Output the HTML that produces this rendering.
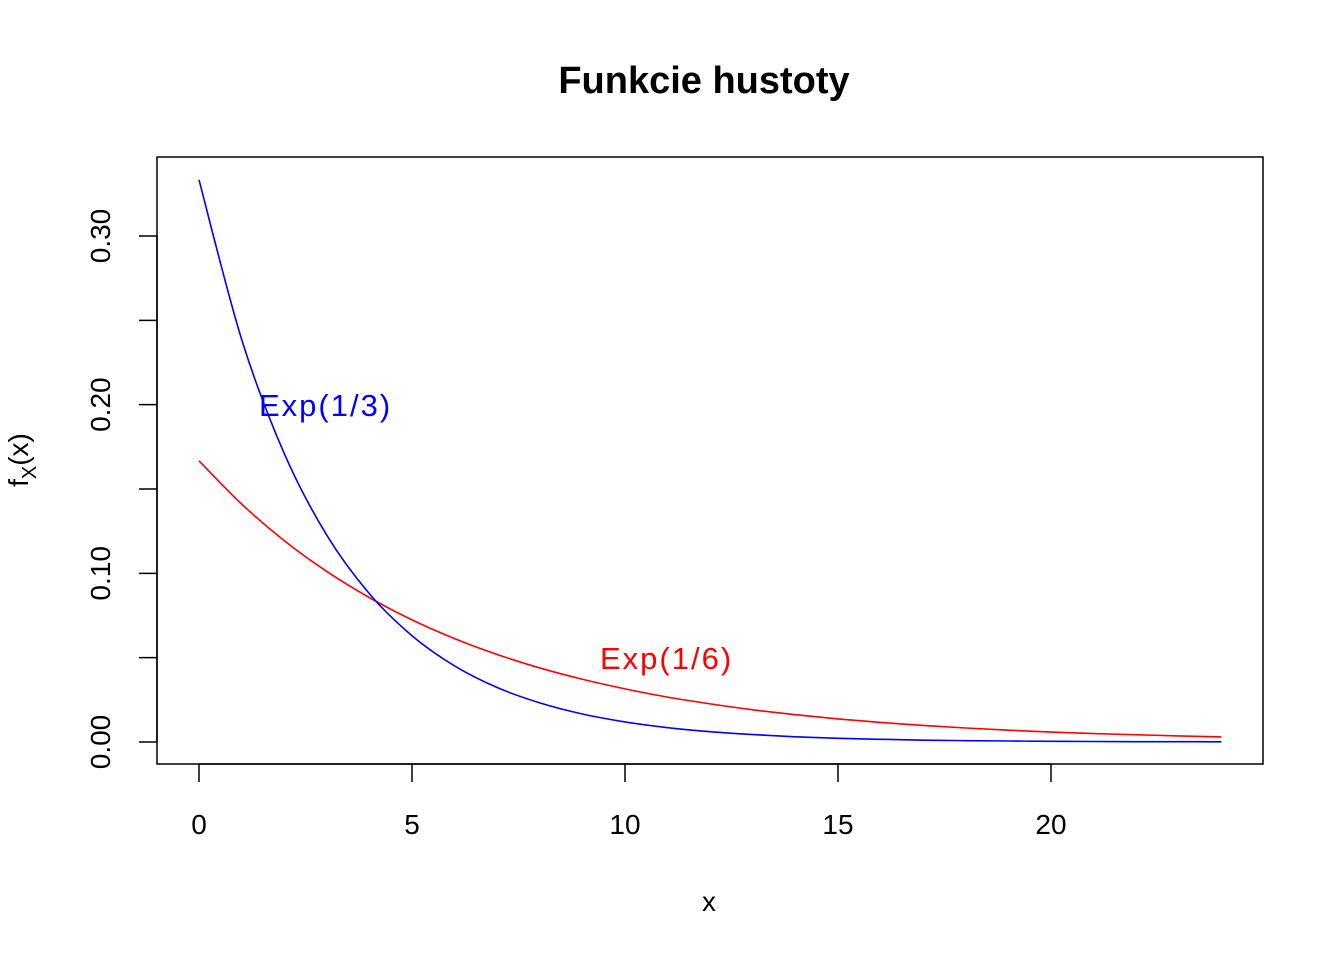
<!DOCTYPE html>
<html><head><meta charset="utf-8"><style>
html,body{margin:0;padding:0;background:#fff;}
svg text{font-family:"Liberation Sans",Arial,sans-serif;}
</style></head><body>
<svg id="chart" width="1344" height="960" viewBox="0 0 1344 960" xmlns="http://www.w3.org/2000/svg">
<text x="704" y="93" font-size="38" font-weight="bold" text-anchor="middle">Funkcie hustoty</text>
<rect x="157" y="157" width="1106" height="607" fill="none" stroke="#000" stroke-width="1.5"/>
<g id="axes"></g>
<g id="series"></g>
<text x="709" y="911" font-size="28" text-anchor="middle">x</text>
<text transform="translate(28,460) rotate(-90)" font-size="28" text-anchor="middle">f<tspan font-size="20" dy="8">X</tspan><tspan dy="-8">(x)</tspan></text>
<text x="259" y="416" font-size="31" letter-spacing="2" fill="#0000ff">Exp(1/3)</text>
<text x="600" y="669" font-size="31" letter-spacing="2" fill="#ff0000">Exp(1/6)</text>
</svg>
<script>
const xs=[0,1,2,3,4,5,6,7,8,9,10,11,12,13,14,15,16,17,18,19,20,21,22,23,24];
const dens13=[.3333,.2388,.1711,.1226,.0879,.0630,.0451,.0323,.0232,.0166,.0119,.0085,.0061,.0044,.0031,.0022,.0016,.0011,.0008,.0006,.0004,.0003,.0002,.0002,.0001];
const dens16=[.1667,.1411,.1194,.1011,.0856,.0724,.0613,.0519,.0439,.0372,.0315,.0266,.0226,.0191,.0162,.0137,.0116,.0098,.0083,.0070,.0059,.0050,.0043,.0036,.0030];
const xTicks=[0,5,10,15,20];
const xTickLabels=["0","5","10","15","20"];
const yTicks=[0,0.05,0.10,0.15,0.20,0.25,0.30];
const yTickLabels=["0.00","","0.10","","0.20","","0.30"];
const NS="http://www.w3.org/2000/svg";
function sx(v){return 199+v*42.6;}
function sy(v){return 742-v*1686.7;}
const ax=document.getElementById('axes');
function mk(t,a,p){const e=document.createElementNS(NS,t);for(const k in a)e.setAttribute(k,a[k]);p.appendChild(e);return e;}
let l=mk('line',{x1:sx(0),x2:sx(20),y1:764,y2:764,stroke:'#000','stroke-width':1.5},ax);


xTicks.forEach((v,i)=>{
 const t=mk('line',{x1:sx(v),x2:sx(v),y1:764,y2:782,stroke:'#000','stroke-width':1.5},ax);
 
 
 const tx=mk('text',{x:sx(v),y:834,'font-size':28,'text-anchor':'middle'},ax);
 tx.textContent=xTickLabels[i];
 
 
});
l=mk('line',{x1:157,x2:157,y1:sy(0),y2:sy(0.30),stroke:'#000','stroke-width':1.5},ax);


yTicks.forEach((v,i)=>{
 const t=mk('line',{x1:139,x2:157,y1:sy(v),y2:sy(v),stroke:'#000','stroke-width':1.5},ax);
 
 
 if(yTickLabels[i]){
  const tx=mk('text',{transform:`translate(110,${sy(v)}) rotate(-90)`,'font-size':28,'text-anchor':'middle'},ax);
  tx.textContent=yTickLabels[i];
  
  
 }
});
function pathFor(ys){
 const p=xs.map((x,i)=>[sx(x),sy(ys[i])]);
 let d=`M${p[0][0]},${p[0][1]}`;
 for(let i=0;i<p.length-1;i++){
  const p0=p[Math.max(0,i-1)],p1=p[i],p2=p[i+1],p3=p[Math.min(p.length-1,i+2)];
  const c1=[p1[0]+(p2[0]-p0[0])/6,p1[1]+(p2[1]-p0[1])/6];
  const c2=[p2[0]-(p3[0]-p1[0])/6,p2[1]-(p3[1]-p1[1])/6];
  d+=` C${c1[0]},${c1[1]} ${c2[0]},${c2[1]} ${p2[0]},${p2[1]}`;
 }
 return d;
}
const sg=document.getElementById('series');
const a=mk('path',{d:pathFor(dens16),fill:'none',stroke:'#ff0000','stroke-width':1.6},sg);


const b=mk('path',{d:pathFor(dens13),fill:'none',stroke:'#0000ff','stroke-width':1.6},sg);


</script>
</body></html>
